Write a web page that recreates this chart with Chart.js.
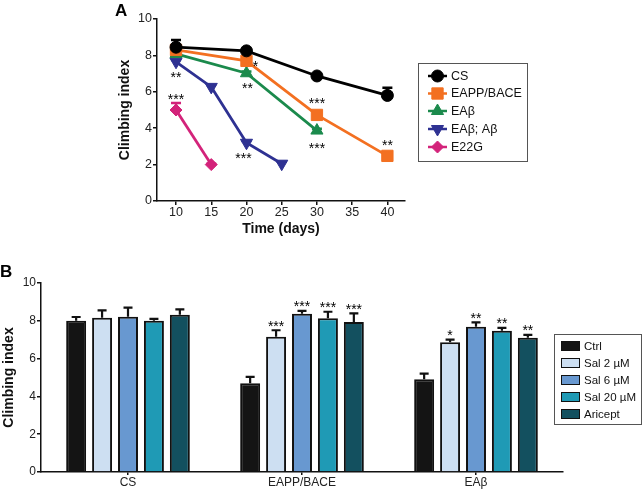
<!DOCTYPE html>
<html><head><meta charset="utf-8">
<script src="https://cdn.jsdelivr.net/npm/chart.js@4.4.0/dist/chart.umd.min.js"></script>
<style>
html,body{margin:0;padding:0;background:#fff;width:644px;height:496px;overflow:hidden;font-family:Arial,"Liberation Sans",sans-serif}
#wa{position:absolute;left:0;top:0;width:644px;height:250px}
#wb{position:absolute;left:0;top:250px;width:644px;height:246px}
.lbl{position:absolute;font-weight:bold;font-size:17px;line-height:17px;color:#000}
</style></head><body>
<div id="wa"><canvas id="ca"></canvas></div>
<div id="wb"><canvas id="cb"></canvas></div>
<div class="lbl" style="left:115px;top:2px">A</div>
<div class="lbl" style="left:0px;top:263px">B</div>
<script>
// ---------- Panel A data ----------
const seriesNamesA = ['CS', 'EAPP/BACE', 'EAβ', 'EAβ; Aβ', 'E22G'];
const daysCS = [10, 20, 30, 40];
const valsCS = [8.45, 8.25, 6.87, 5.8];
const errCS = [0.4, 0.08, 0.08, 0.42];
const daysEAPP = [10, 20, 30, 40];
const valsEAPP = [8.3, 7.7, 4.73, 2.48];
const errEAPP = [0.1, 0.1, 0.1, 0.1];
const daysEAb = [10, 20, 30];
const valsEAb = [8.08, 7.02, 3.87];
const errEAb = [0.1, 0.1, 0.1];
const daysEAbAb = [10, 15, 20, 25];
const valsEAbAb = [7.65, 6.27, 3.2, 2.05];
const errEAbAb = [0.1, 0.1, 0.1, 0.1];
const daysE22G = [10, 15];
const valsE22G = [5.0, 2.0];
const errE22G = [0.38, 0.05];
const xTicksA = [10, 15, 20, 25, 30, 35, 40];
const yTicksA = [0, 2, 4, 6, 8, 10];
// significance marks: [series index, point index, text]
const sigA = [[3, 0, '**'], [4, 0, '***'], [1, 1, '*'], [2, 1, '**'], [3, 2, '***'], [1, 2, '***'], [2, 2, '***'], [1, 3, '**']];

// ---------- Panel B data ----------
const groupsB = ['CS', 'EAPP/BACE', 'EAβ'];
const treatB = ['Ctrl', 'Sal 2 µM', 'Sal 6 µM', 'Sal 20 µM', 'Aricept'];
const ctrlB = [8.0, 4.7, 4.91];
const ctrlErrB = [0.2, 0.33, 0.3];
const sal2B = [8.16, 7.15, 6.86];
const sal2ErrB = [0.39, 0.35, 0.14];
const sal6B = [8.21, 8.37, 7.69];
const sal6ErrB = [0.49, 0.16, 0.23];
const sal20B = [8.0, 8.13, 7.47];
const sal20ErrB = [0.1, 0.35, 0.16];
const ariceptB = [8.32, 7.93, 7.1];
const ariceptErrB = [0.28, 0.46, 0.16];
const sigCtrlB = ['', '', ''];
const sigSal2B = ['', '***', '*'];
const sigSal6B = ['', '***', '**'];
const sigSal20B = ['', '***', '**'];
const sigAriceptB = ['', '***', '**'];
const yTicksB = [0, 2, 4, 6, 8, 10];

// ---------- styles ----------
const FONT = 'Arial, "Liberation Sans", sans-serif';
const colorsA = ['#000000', '#f37021', '#1b8a4c', '#2e3192', '#d3237a'];
const stylesA = [
  {pointStyle: 'circle', radius: 6, rotation: 0},
  {pointStyle: 'rect', radius: 8, rotation: 0},
  {pointStyle: 'triangle', radius: 7, rotation: 0},
  {pointStyle: 'triangle', radius: 7, rotation: 180},
  {pointStyle: 'rectRot', radius: 6, rotation: 0}
];
const sigOffsetA = [[0, 12], [0, -14], [9, 2], [1, 12], [-3, 12], [0, -15], [0, 14], [0, -14]];
const colorsB = ['#141414', '#cddff2', '#6898d0', '#1f9ab5', '#13505f'];

function drawStars(ctx, text, cx, cy) {
  ctx.save();
  ctx.fillStyle = '#000';
  ctx.font = '14px ' + FONT;
  ctx.textAlign = 'center';
  ctx.textBaseline = 'alphabetic';
  ctx.fillText(text, cx, cy + 8);
  ctx.restore();
}
function drawMarker(ctx, st, color, x, y) {
  ctx.save();
  ctx.fillStyle = color; ctx.strokeStyle = color; ctx.lineWidth = 1;
  Chart.helpers.drawPoint(ctx, {pointStyle: st.pointStyle, radius: st.radius, rotation: st.rotation, borderWidth: 1}, x, y);
  ctx.restore();
}

const pts = (xs, ys) => xs.map((x, i) => ({x: x, y: ys[i]}));
const dataA = [pts(daysCS, valsCS), pts(daysEAPP, valsEAPP), pts(daysEAb, valsEAb), pts(daysEAbAb, valsEAbAb), pts(daysE22G, valsE22G)];
const errA = [errCS, errEAPP, errEAb, errEAbAb, errE22G];

const pluginA = {
  id: 'pa',
  beforeDatasetsDraw(chart) {
    const ctx = chart.ctx, ys = chart.scales.y;
    chart.data.datasets.forEach((ds, di) => {
      const meta = chart.getDatasetMeta(di);
      meta.data.forEach((p, i) => {
        const top = ys.getPixelForValue(dataA[di][i].y + errA[di][i]);
        ctx.save();
        ctx.strokeStyle = colorsA[di]; ctx.lineWidth = 2.5;
        ctx.beginPath(); ctx.moveTo(p.x, p.y); ctx.lineTo(p.x, top);
        ctx.moveTo(p.x - 5, top); ctx.lineTo(p.x + 5, top); ctx.stroke();
        ctx.restore();
      });
    });
  },
  afterDraw(chart) {
    const ctx = chart.ctx;
    sigA.forEach((s, k) => {
      const p = chart.getDatasetMeta(s[0]).data[s[1]];
      drawStars(ctx, s[2], p.x + sigOffsetA[k][0], p.y + sigOffsetA[k][1]);
    });
    // legend
    ctx.save();
    ctx.strokeStyle = '#555'; ctx.lineWidth = 1;
    ctx.strokeRect(418.5, 63.5, 109, 98);
    const ys = [76, 93.5, 111, 129, 147];
    seriesNamesA.forEach((n, i) => {
      ctx.strokeStyle = colorsA[i]; ctx.lineWidth = 2.5;
      ctx.beginPath(); ctx.moveTo(428, ys[i]); ctx.lineTo(447, ys[i]); ctx.stroke();
      drawMarker(ctx, stylesA[i], colorsA[i], 437.5, ys[i]);
      ctx.fillStyle = '#111'; ctx.font = '12.5px ' + FONT; ctx.textBaseline = 'middle'; ctx.textAlign = 'left';
      ctx.fillText(n, 451, ys[i] + 0.5);
    });
    ctx.restore();
  }
};

new Chart(document.getElementById('ca'), {
  type: 'line',
  data: {
    datasets: dataA.map((d, i) => ({
      label: seriesNamesA[i], data: d,
      borderColor: colorsA[i], backgroundColor: colorsA[i],
      borderWidth: 2.8, pointStyle: stylesA[i].pointStyle, pointRadius: stylesA[i].radius,
      pointRotation: stylesA[i].rotation, pointBorderWidth: 1, pointBackgroundColor: colorsA[i],
      pointBorderColor: colorsA[i], tension: 0, fill: false
    }))
  },
  options: {
    responsive: true, maintainAspectRatio: false, animation: false,
    layout: {padding: {left: 117, right: 239, top: 19, bottom: 12}},
    plugins: {legend: {display: false}, tooltip: {enabled: false}},
    scales: {
      x: {
        type: 'linear', min: 7.3, max: 42.5,
        afterBuildTicks: s => { s.ticks = xTicksA.map(v => ({value: v})); },
        afterFit: s => { s.height = 37; },
        grid: {drawOnChartArea: false, drawTicks: true, tickLength: 4, color: '#111', lineWidth: 1.5},
        border: {color: '#111', width: 1.5},
        ticks: {color: '#222', font: {size: 12.5, family: FONT}, padding: 0, maxRotation: 0},
        title: {display: true, text: 'Time (days)', color: '#111', font: {size: 14, weight: 'bold', family: FONT}, padding: 0}
      },
      y: {
        min: 0, max: 10,
        afterBuildTicks: s => { s.ticks = yTicksA.map(v => ({value: v})); },
        afterFit: s => { s.width = 40; },
        grid: {drawOnChartArea: false, drawTicks: true, tickLength: 4, color: '#111', lineWidth: 1.5},
        border: {color: '#111', width: 1.5},
        ticks: {color: '#222', font: {size: 12.5, family: FONT}, padding: 1},
        title: {display: true, text: 'Climbing index', color: '#111', font: {size: 14, weight: 'bold', family: FONT}, padding: 0}
      }
    }
  },
  plugins: [pluginA]
});

// ---------- Panel B ----------
const valsB = [ctrlB, sal2B, sal6B, sal20B, ariceptB];
const errsB = [ctrlErrB, sal2ErrB, sal6ErrB, sal20ErrB, ariceptErrB];
const sigsB = [sigCtrlB, sigSal2B, sigSal6B, sigSal20B, sigAriceptB];

const pluginB = {
  id: 'pb',
  afterDatasetsDraw(chart) {
    const ctx = chart.ctx, ys = chart.scales.y;
    valsB.forEach((vals, di) => {
      const meta = chart.getDatasetMeta(di);
      meta.data.forEach((b, i) => {
        const top = ys.getPixelForValue(vals[i] + errsB[di][i]);
        ctx.save();
        ctx.strokeStyle = '#111'; ctx.lineWidth = 2.2;
        ctx.beginPath(); ctx.moveTo(b.x, b.y); ctx.lineTo(b.x, top);
        ctx.moveTo(b.x - 4.5, top); ctx.lineTo(b.x + 4.5, top); ctx.stroke();
        ctx.restore();
        if (sigsB[di][i]) drawStars(ctx, sigsB[di][i], b.x, top - 7.5);
      });
    });
  },
  afterDraw(chart) {
    const ctx = chart.ctx;
    ctx.save();
    ctx.strokeStyle = '#555'; ctx.lineWidth = 1;
    ctx.strokeRect(554.5, 84.5, 87, 90);
    const ys = [96, 113, 130, 147, 164];
    treatB.forEach((n, i) => {
      ctx.fillStyle = colorsB[i]; ctx.fillRect(561, ys[i] - 4.5, 19, 9);
      ctx.strokeStyle = '#111'; ctx.lineWidth = 1; ctx.strokeRect(561.5, ys[i] - 4.5, 18, 9);
      ctx.fillStyle = '#111'; ctx.font = '11.5px ' + FONT; ctx.textBaseline = 'middle'; ctx.textAlign = 'left';
      ctx.fillText(n, 584, ys[i] + 0.5);
    });
    ctx.restore();
  }
};

new Chart(document.getElementById('cb'), {
  type: 'bar',
  data: {
    labels: groupsB,
    datasets: valsB.map((v, i) => ({
      label: treatB[i], data: v, backgroundColor: colorsB[i],
      borderColor: '#111', borderWidth: 2, borderSkipped: 'start',
      categoryPercentage: 0.745, barPercentage: 0.77
    }))
  },
  options: {
    responsive: true, maintainAspectRatio: false, animation: false,
    layout: {padding: {left: 1, right: 81, top: 33, bottom: 0}},
    plugins: {legend: {display: false}, tooltip: {enabled: false}},
    scales: {
      x: {
        afterFit: s => { s.height = 24; },
        grid: {display: true, drawOnChartArea: false, drawTicks: true, tickLength: 3, offset: false, color: '#111', lineWidth: 1.5},
        border: {color: '#111', width: 1.5},
        ticks: {color: '#222', font: {size: 12, family: FONT}, padding: 0}
      },
      y: {
        min: 0, max: 10,
        afterBuildTicks: s => { s.ticks = yTicksB.map(v => ({value: v})); },
        afterFit: s => { s.width = 40; },
        grid: {drawOnChartArea: false, drawTicks: true, tickLength: 4, color: '#111', lineWidth: 1.5},
        border: {color: '#111', width: 1.5},
        ticks: {color: '#222', font: {size: 12, family: FONT}, padding: 1},
        title: {display: true, text: 'Climbing index', color: '#111', font: {size: 14, weight: 'bold', family: FONT}, padding: 0}
      }
    }
  },
  plugins: [pluginB]
});
</script>
</body></html>
